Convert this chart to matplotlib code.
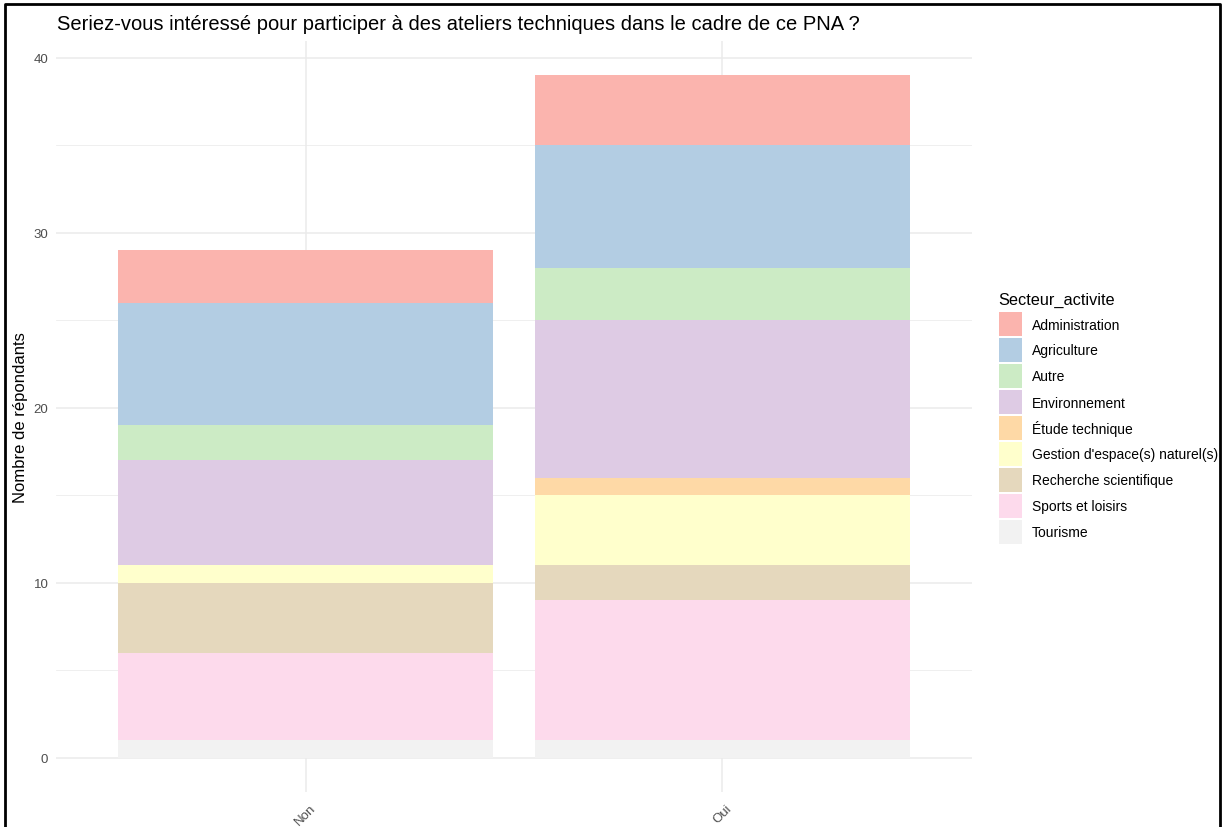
import numpy as np
import matplotlib.pyplot as plt
from matplotlib.lines import Line2D
from matplotlib.patches import Rectangle

plt.rcParams['font.family'] = ['Liberation Sans', 'DejaVu Sans']

## DATA ##
reponses = ['Non', 'Oui']
secteurs = ['Administration', 'Agriculture', 'Autre', 'Environnement', 'Étude technique',
            "Gestion d'espace(s) naturel(s)", 'Recherche scientifique', 'Sports et loisirs', 'Tourisme']
# counts per secteur, [Non, Oui]
administration = [3, 4]
agriculture = [7, 7]
autre = [2, 3]
environnement = [6, 9]
etude_technique = [0, 1]
gestion_espaces = [1, 4]
recherche = [4, 2]
sports_loisirs = [5, 8]
tourisme = [1, 1]

couleurs = ['#FBB4AE', '#B3CDE3', '#CCEBC5', '#DECBE4', '#FED9A6',
            '#FFFFCC', '#E5D8BD', '#FDDAEC', '#F2F2F2']

valeurs = [administration, agriculture, autre, environnement, etude_technique,
           gestion_espaces, recherche, sports_loisirs, tourisme]

W, H = 1223, 828
fig = plt.figure(figsize=(W / 100, H / 100), dpi=100)
# panel in pixels: left 56, right 972, top 42, bottom 793
ax = fig.add_axes([56 / W, 1 - 793 / H, (972 - 56) / W, (793 - 42) / H])

x = np.arange(1, len(reponses) + 1)
# ggplot stacks the first level on top, so draw from the last level upward
bottom = np.zeros(len(reponses))
for nom, vals, coul in reversed(list(zip(secteurs, valeurs, couleurs))):
    vals = np.array(vals, dtype=float)
    ax.bar(x, vals, bottom=bottom, width=0.9, color=coul, linewidth=0, zorder=2)
    bottom += vals

total_max = bottom.max()
ax.set_xlim(0.4, 2.6)
ax.set_ylim(-0.05 * total_max, total_max * 1.05)

ax.set_yticks([0, 10, 20, 30, 40])
ax.set_yticks([5, 15, 25, 35], minor=True)
ax.set_xticks(x)
ax.set_xticklabels(reponses, rotation=45, ha='center', va='top')
ax.grid(which='major', color='#EBEBEB', linewidth=1.1, zorder=0)
ax.grid(which='minor', axis='y', color='#EBEBEB', linewidth=0.55, zorder=0)
ax.set_axisbelow(True)
ax.tick_params(which='both', length=0)
ax.tick_params(axis='y', labelsize=9.5, labelcolor='#4D4D4D', pad=5.5)
ax.tick_params(axis='x', labelsize=9.5, labelcolor='#4D4D4D', pad=7)
for s in ax.spines.values():
    s.set_visible(False)

ax.set_ylabel('Nombre de répondants', fontsize=12, color='black', va='center')
ax.yaxis.set_label_coords((21 - 56) / 916, 0.5)

fig.text(57 / W, 1 - 30 / H, "Seriez-vous intéressé pour participer à des ateliers techniques dans le cadre de ce PNA ?",
         fontsize=14.5, color='black', ha='left', va='baseline')

# legend, ggplot style
fig.text(998 / W, 1 - 305 / H, 'Secteur_activite', fontsize=11.7, color='black',
         ha='left', va='baseline')
for i, (nom, coul) in enumerate(zip(secteurs, couleurs)):
    top = 313 + 26 * i
    fig.add_artist(Rectangle((999 / W, 1 - (top + 24) / H), 23 / W, 24 / H,
                             facecolor=coul, edgecolor='none', transform=fig.transFigure))
    fig.text(1032 / W, 1 - (top + 12.5) / H, nom, fontsize=10, color='black',
             ha='left', va='center')

# screenshot border
fig.add_artist(Line2D([5 / W, 5 / W, 1220 / W, 1220 / W], [0, 1 - 5 / H, 1 - 5 / H, 0],
                      color='black', linewidth=2, transform=fig.transFigure))

fig.savefig('out.png', dpi=100)
